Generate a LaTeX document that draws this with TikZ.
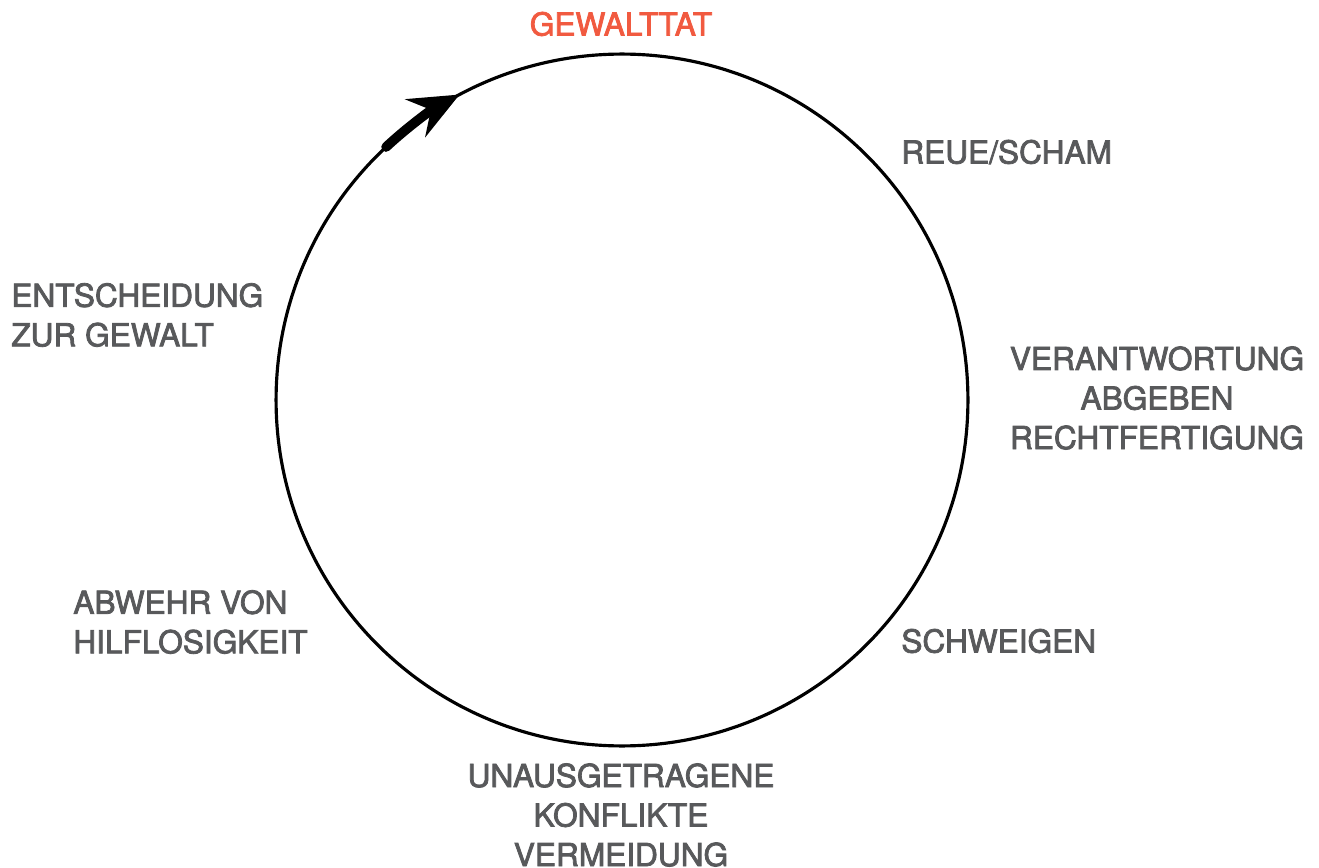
\documentclass[tikz,border=0pt]{standalone}
\usepackage{fontspec}
\setmainfont{TeX Gyre Heros}
\newfontfamily\stagefont{TeX Gyre Heros}[FakeBold=2.5]
\usepackage{tikz}
\usetikzlibrary{arrows.meta}
\definecolor{textgray}{HTML}{58595B}
\definecolor{tatred}{HTML}{F15A40}

\begin{document}
\begin{tikzpicture}[x=0.02cm, y=0.02cm,
    stage/.style={text=textgray, font=\stagefont\fontsize{18}{22.5}\selectfont, inner sep=0pt},
    stageleft/.style={stage, anchor=west, align=left},
    stagemid/.style={stage, align=center}]
                            \useasboundingbox (0, 0) rectangle (1319, 867);
                            \coordinate (mitte) at (622, 467);
                            \draw[line width=1.8pt] (mitte) circle[radius=6.92cm];
                            \draw[line width=5.5pt, line cap=round, -{Stealth[length=1cm, width=0.85cm, inset=0.35cm]}]
                                (mitte) ++(133:6.92cm) arc[start angle=133, end angle=118, radius=6.92cm];
                            \node[stagemid, text=tatred] (tat) at (621, 843) {GEWALTTAT};
                            \node[stageleft] (reue) at (901, 715) {REUE/SCHAM};
                            \node[stagemid] (verantwortung) at (1157, 469) {VERANTWORTUNG\\ABGEBEN\\RECHTFERTIGUNG};
                            \node[stageleft] (schweigen) at (901, 226) {SCHWEIGEN};
                            \node[stagemid] (konflikte) at (621, 52) {UNAUSGETRAGENE\\KONFLIKTE\\VERMEIDUNG};
                            \node[stageleft] (abwehr) at (73, 245) {ABWEHR VON\\HILFLOSIGKEIT};
                            \node[stageleft] (entscheidung) at (11, 552) {ENTSCHEIDUNG\\ZUR GEWALT};
                        \end{tikzpicture}
\end{document}
